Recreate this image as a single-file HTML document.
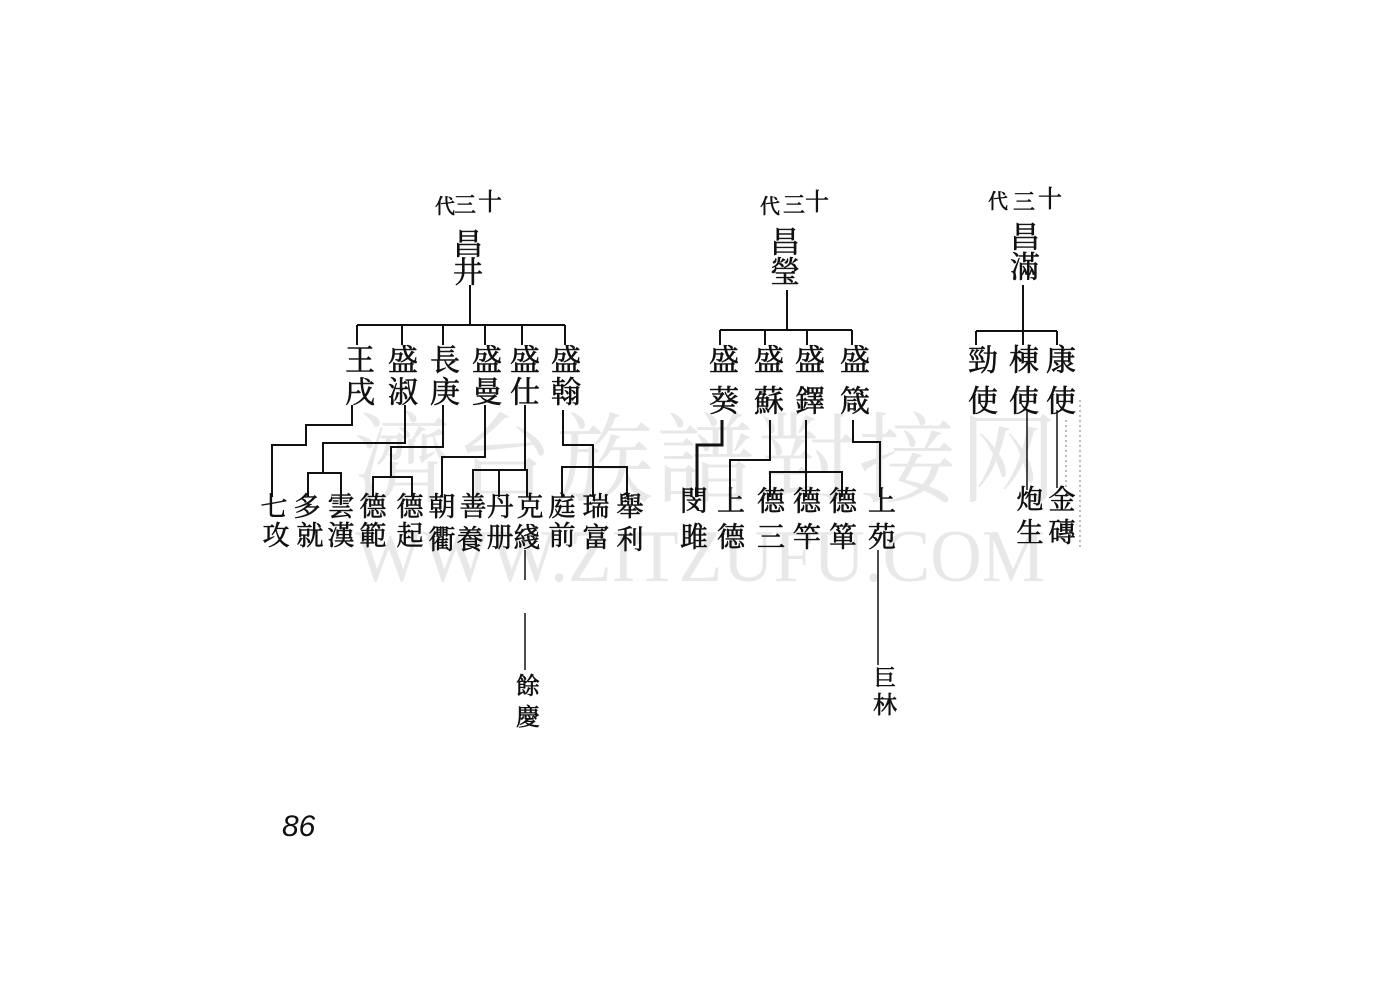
<!DOCTYPE html>
<html><head><meta charset="utf-8"><style>
html,body{margin:0;padding:0;background:#fff;}
svg{display:block}
.c{font-family:"Liberation Serif","Noto Serif CJK SC","Noto Sans CJK SC",serif;fill:#111;stroke:#111;stroke-width:0.6;text-anchor:middle;dominant-baseline:central}
.w{font-family:"Liberation Serif","Noto Serif CJK SC",serif;fill:#e8e8e8;text-anchor:middle;dominant-baseline:central}
</style></head><body>
<svg width="1400" height="1000" viewBox="0 0 1400 1000" xmlns="http://www.w3.org/2000/svg">
<rect width="1400" height="1000" fill="#fff"/>
<text class="w" x="707" y="462" font-size="98" letter-spacing="3">濟台族譜對接网</text>
<text class="w" x="700" y="557" font-size="74" font-family="Liberation Serif" textLength="690" lengthAdjust="spacingAndGlyphs">WWW.ZITZUFU.COM</text>

<g stroke="#111" stroke-width="2" fill="none">
<path d="M470 285V325M357 325H565M357 325V345M402 325V345M443 325V345M485 325V345M522 325V345M565 325V345"/>
<path d="M352 405V425H306V445H272V497"/>
<path d="M405 405V443H323V473M308 497V473H341V497"/>
<path d="M443 405V447H391V477M373 497V477H412V497"/>
<path d="M485 405V457H442V497"/>
<path d="M525 405V470M473 497V470H527V497M499 470V497"/>
<path d="M563 410V445H593V467M562 497V467H627V497M593 467V497"/>
<path d="M525 550V580M525 613V670" stroke-width="1.5"/>
<path d="M787 290V330M720 330H852M720 330V345M765 330V345M807 330V345M852 330V345"/>
<path d="M722 420V445H697V497" stroke-width="3"/>
<path d="M770 420V460H730V497"/>
<path d="M806 420V497M770 497V472H842V497"/>
<path d="M853 420V442H880V497"/>
<path d="M878 550V665" stroke-width="1.5"/>
<path d="M1023 285V345M976 331H1057M976 331V345M1057 331V345"/>
<path d="M1027 410V490M1057 410V488" stroke-width="1.5"/>
<path d="M1066 420V500M1080 400V550" stroke-width="1" stroke-dasharray="2 3" stroke="#777"/>
</g>

<text class="c" x="445" y="207" font-size="20">代</text>
<text class="c" x="465" y="205" font-size="22">三</text>
<text class="c" x="490" y="203" font-size="24">十</text>
<text class="c" x="468" y="245" font-size="30">昌</text>
<text class="c" x="468" y="273" font-size="30">井</text>
<g font-size="30">
<text class="c" x="360" y="361">王</text><text class="c" x="360" y="393">戌</text>
<text class="c" x="403" y="361">盛</text><text class="c" x="403" y="393">淑</text>
<text class="c" x="445" y="361">長</text><text class="c" x="445" y="393">庚</text>
<text class="c" x="487" y="361">盛</text><text class="c" x="487" y="393">曼</text>
<text class="c" x="525" y="361">盛</text><text class="c" x="525" y="393">仕</text>
<text class="c" x="566" y="361">盛</text><text class="c" x="566" y="393">翰</text>
</g>
<g font-size="27">
<text class="c" x="274" y="507">七</text><text class="c" x="276" y="536">攻</text>
<text class="c" x="307" y="507">多</text><text class="c" x="310" y="536">就</text>
<text class="c" x="341" y="507">雲</text><text class="c" x="341" y="536">漢</text>
<text class="c" x="373" y="507">德</text><text class="c" x="373" y="536">範</text>
<text class="c" x="410" y="507">德</text><text class="c" x="410" y="536">起</text>
<text class="c" x="442" y="507">朝</text><text class="c" x="442" y="540">衢</text>
<text class="c" x="473" y="507">善</text><text class="c" x="470" y="540">養</text>
<text class="c" x="500" y="507">丹</text><text class="c" x="500" y="538">册</text>
<text class="c" x="530" y="507">克</text><text class="c" x="527" y="538">綫</text>
<text class="c" x="562" y="507">庭</text><text class="c" x="562" y="536">前</text>
<text class="c" x="596" y="507">瑞</text><text class="c" x="596" y="538">富</text>
<text class="c" x="630" y="507">舉</text><text class="c" x="630" y="540">利</text>
<text class="c" x="528" y="687" font-size="24">餘</text><text class="c" x="528" y="718" font-size="24">慶</text>
</g>

<text class="c" x="770" y="207" font-size="20">代</text>
<text class="c" x="794" y="205" font-size="22">三</text>
<text class="c" x="817" y="203" font-size="24">十</text>
<text class="c" x="785" y="243" font-size="30">昌</text>
<text class="c" x="785" y="273" font-size="30">瑩</text>
<g font-size="30">
<text class="c" x="724" y="361">盛</text><text class="c" x="724" y="402">葵</text>
<text class="c" x="769" y="361">盛</text><text class="c" x="769" y="402">蘇</text>
<text class="c" x="810" y="361">盛</text><text class="c" x="810" y="402">鐸</text>
<text class="c" x="855" y="361">盛</text><text class="c" x="855" y="402">箴</text>
</g>
<g font-size="28">
<text class="c" x="694" y="502">閔</text><text class="c" x="694" y="538">雎</text>
<text class="c" x="731" y="502">上</text><text class="c" x="731" y="538">德</text>
<text class="c" x="771" y="502">德</text><text class="c" x="771" y="538">三</text>
<text class="c" x="807" y="502">德</text><text class="c" x="807" y="538">竿</text>
<text class="c" x="843" y="502">德</text><text class="c" x="843" y="538">箪</text>
<text class="c" x="882" y="502">上</text><text class="c" x="882" y="538">苑</text>
<text class="c" x="885" y="678" font-size="22">巨</text><text class="c" x="885" y="706" font-size="24">林</text>
</g>

<text class="c" x="998" y="202" font-size="20">代</text>
<text class="c" x="1024" y="202" font-size="22">三</text>
<text class="c" x="1050" y="200" font-size="24">十</text>
<text class="c" x="1025" y="238" font-size="30">昌</text>
<text class="c" x="1025" y="268" font-size="30">滿</text>
<g font-size="30">
<text class="c" x="983" y="361">勁</text><text class="c" x="983" y="402">使</text>
<text class="c" x="1024" y="361">棟</text><text class="c" x="1024" y="402">使</text>
<text class="c" x="1061" y="361">康</text><text class="c" x="1061" y="402">使</text>
</g>
<g font-size="27">
<text class="c" x="1030" y="500">炮</text><text class="c" x="1030" y="533">生</text>
<text class="c" x="1062" y="500">金</text><text class="c" x="1062" y="533">磚</text>
</g>

<text x="282" y="836" font-family="Liberation Sans, sans-serif" font-style="italic" font-size="30" fill="#111">86</text>
</svg>
</body></html>
